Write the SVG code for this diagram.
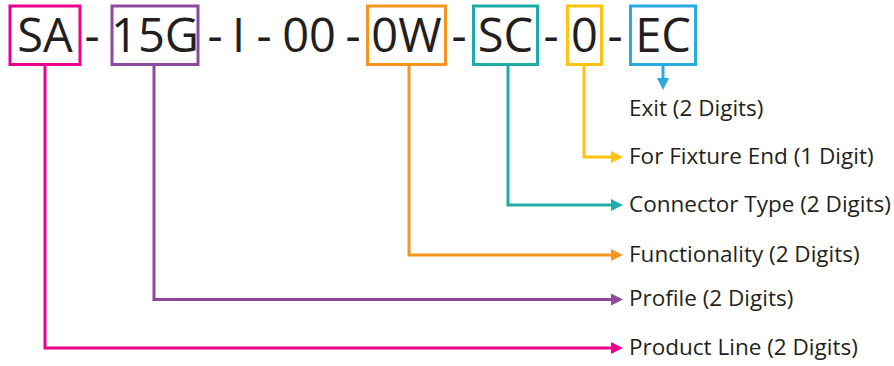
<svg xmlns="http://www.w3.org/2000/svg" width="894" height="366" viewBox="0 0 894 366">
<defs>
<style>
.code{font-family:"Open Sans","Noto Sans","Liberation Sans",sans-serif;font-size:47px;fill:#231F20;text-anchor:middle}
.lbl{font-family:"Open Sans","Noto Sans","Liberation Sans",sans-serif;font-size:22.5px;fill:#231F20}
.box{fill:none;stroke-width:3}
.ln{fill:none;stroke-width:3}
</style>
<marker id="aPink" markerUnits="userSpaceOnUse" markerWidth="12" markerHeight="12" refX="0" refY="6" orient="auto"><path d="M0,0 L12,6 L0,12 z" fill="#EC008C"/></marker>
<marker id="aPurple" markerUnits="userSpaceOnUse" markerWidth="12" markerHeight="12" refX="0" refY="6" orient="auto"><path d="M0,0 L12,6 L0,12 z" fill="#8B4A9E"/></marker>
<marker id="aOrange" markerUnits="userSpaceOnUse" markerWidth="12" markerHeight="12" refX="0" refY="6" orient="auto"><path d="M0,0 L12,6 L0,12 z" fill="#F7941D"/></marker>
<marker id="aTeal" markerUnits="userSpaceOnUse" markerWidth="12" markerHeight="12" refX="0" refY="6" orient="auto"><path d="M0,0 L12,6 L0,12 z" fill="#1CADA8"/></marker>
<marker id="aYellow" markerUnits="userSpaceOnUse" markerWidth="12" markerHeight="12" refX="0" refY="6" orient="auto"><path d="M0,0 L12,6 L0,12 z" fill="#FFC20E"/></marker>
<marker id="aBlue" markerUnits="userSpaceOnUse" markerWidth="12" markerHeight="12" refX="0" refY="6" orient="auto"><path d="M0,0 L12,6 L0,12 z" fill="#29ABE2"/></marker>
</defs>
<rect width="894" height="366" fill="#FFFFFF"/>

<g id="connectors">
<path class="ln" stroke="#EC008C" d="M45,65 V348 H611" marker-end="url(#aPink)"/>
<path class="ln" stroke="#8B4A9E" d="M154,65 V299.5 H611" marker-end="url(#aPurple)"/>
<path class="ln" stroke="#F7941D" d="M409,65 V255 H611" marker-end="url(#aOrange)"/>
<path class="ln" stroke="#1CADA8" d="M508,65 V205 H611" marker-end="url(#aTeal)"/>
<path class="ln" stroke="#FFC20E" d="M584,65 V157 H611" marker-end="url(#aYellow)"/>
<path class="ln" stroke="#29ABE2" d="M663,65 V78" marker-end="url(#aBlue)"/>
</g>

<g id="code">
<g id="seg-SA"><rect class="box" stroke="#EC008C" x="10" y="6" width="70" height="58.5"/><text class="code" x="45" y="52">SA</text></g>
<text class="code" x="92" y="52">-</text>
<g id="seg-15G"><rect class="box" stroke="#8B4A9E" x="112" y="6" width="86" height="58.5"/><text class="code" x="155" y="52">15G</text></g>
<text class="code" x="215" y="52">-</text>
<text class="code" x="238.5" y="52">I</text>
<text class="code" x="264" y="52">-</text>
<text class="code" x="309" y="52">00</text>
<text class="code" x="353" y="52">-</text>
<g id="seg-0W"><rect class="box" stroke="#F7941D" x="367.5" y="6" width="78" height="58.5"/><text class="code" x="406.5" y="52">0W</text></g>
<text class="code" x="459" y="52">-</text>
<g id="seg-SC"><rect class="box" stroke="#1CADA8" x="473.5" y="6" width="64" height="58.5"/><text class="code" x="505.5" y="52">SC</text></g>
<text class="code" x="551" y="52">-</text>
<g id="seg-0"><rect class="box" stroke="#FFC20E" x="567.5" y="6" width="34" height="58.5"/><text class="code" x="584.5" y="52">0</text></g>
<text class="code" x="615" y="52">-</text>
<g id="seg-EC"><rect class="box" stroke="#29ABE2" x="630.5" y="6" width="65" height="58.5"/><text class="code" x="663" y="52">EC</text></g>
</g>

<g id="labels">
<g id="lbl-exit"><text class="lbl" x="629" y="116">Exit (2 Digits)</text></g>
<g id="lbl-fixture"><text class="lbl" x="629" y="164">For Fixture End (1 Digit)</text></g>
<g id="lbl-connector"><text class="lbl" x="629" y="212">Connector Type (2 Digits)</text></g>
<g id="lbl-function"><text class="lbl" x="629" y="262">Functionality (2 Digits)</text></g>
<g id="lbl-profile"><text class="lbl" x="629" y="306">Profile (2 Digits)</text></g>
<g id="lbl-product"><text class="lbl" x="629" y="355">Product Line (2 Digits)</text></g>
</g>
</svg>
